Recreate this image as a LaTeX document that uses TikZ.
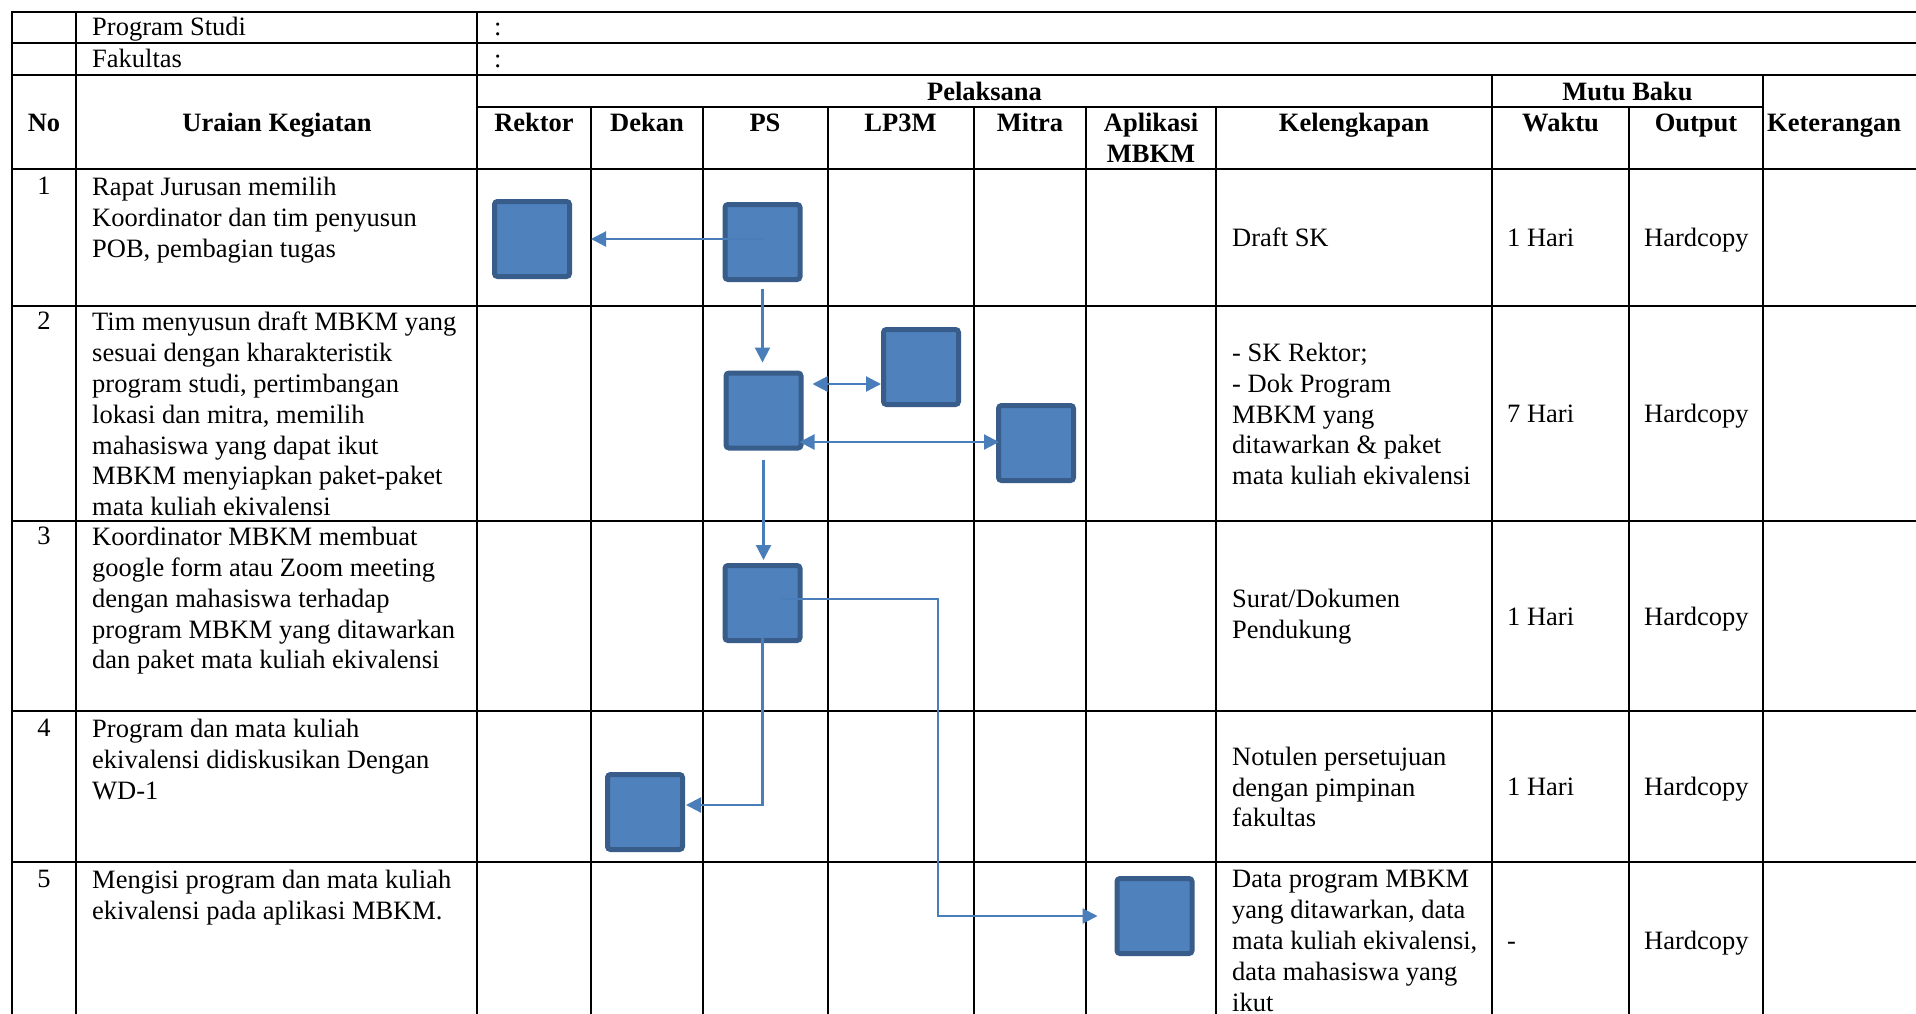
\documentclass[tikz,border=0pt]{standalone}
\usepackage{fontspec}
\setmainfont{Liberation Serif}
\usetikzlibrary{arrows.meta}
\definecolor{boxfill}{HTML}{4F81BD}
\definecolor{boxline}{HTML}{385D8A}
\definecolor{conncol}{HTML}{4A7EBB}
\begin{document}
\begin{tikzpicture}[x=1pt,y=-1pt,
  grid/.style={line width=2pt, black, line cap=rect},
  tx/.style={font=\fontsize{26.5}{30.8}\selectfont, inner sep=0pt, align=left},
  one/.style={font=\fontsize{26.5}{30.8}\selectfont, inner sep=0pt, text height=18pt, text depth=6pt},
  hd/.style={font=\bfseries\fontsize{26.5}{30.8}\selectfont, inner sep=0pt, text height=18pt, text depth=6pt},
  hdtwo/.style={font=\bfseries\fontsize{26.5}{30.8}\selectfont, inner sep=0pt, align=center},
  flowbox/.style={draw=boxline, fill=boxfill, line width=5pt, rounded corners=3pt, minimum width=75pt, minimum height=75pt, inner sep=0pt},
  conn/.style={draw=conncol, line width=2.2pt},
  tipc/.style={-{Triangle[length=15pt,width=15pt]}},
  tipboth/.style={{Triangle[length=15pt,width=15pt]}-{Triangle[length=15pt,width=15pt]}},
]
\useasboundingbox (0,0) rectangle (1916,1013);
\clip (0,0) rectangle (1916,1013);
\fill[white] (0,0) rectangle (1916,1013);

% ---- table grid ----
\foreach \yy in {12,43,75,169,305.7,521,710.7,861.7}
  \draw[grid] (12,\yy) -- (1940,\yy);
\draw[grid] (477,107) -- (1763,107);
\foreach \xx in {12,76,477}
  \draw[grid] (\xx,12) -- (\xx,1030);
\foreach \xx in {591,703,827.5,974,1086,1216,1629}
  \draw[grid] (\xx,107) -- (\xx,1030);
\foreach \xx in {1492,1763}
  \draw[grid] (\xx,75) -- (\xx,1030);

% ---- top rows ----
\node[one, anchor=west] (ps) at (92,29) {Program Studi};
\node[one, anchor=west] (psc) at (494,29) {:};
\node[one, anchor=west] (fk) at (92,61) {Fakultas};
\node[one, anchor=west] (fkc) at (494,61) {:};

% ---- header ----
\node[hd] (hno) at (44,125) {No};
\node[hd] (hur) at (277,125) {Uraian Kegiatan};
\node[hd] (hpl) at (984.5,94) {Pelaksana};
\node[hd] (hmb) at (1627.5,94) {Mutu Baku};
\node[hd] (hrk) at (534,125) {Rektor};
\node[hd] (hdk) at (647,125) {Dekan};
\node[hd] (hps) at (765,125) {PS};
\node[hd] (hlp) at (900.5,125) {LP3M};
\node[hd] (hmi) at (1030,125) {Mitra};
\node[hdtwo, anchor=north] (hap) at (1151,113) {Aplikasi\\MBKM};
\node[hd] (hkl) at (1354,125) {Kelengkapan};
\node[hd] (hwk) at (1560.5,125) {Waktu};
\node[hd] (hot) at (1696,125) {Output};
\node[hd, anchor=west] (hkt) at (1767,125) {Keterangan};

% ---- row numbers ----
\node[tx, anchor=north] (n1) at (44,177) {1};
\node[tx, anchor=north] (n2) at (44,312) {2};
\node[tx, anchor=north] (n3) at (44,527) {3};
\node[tx, anchor=north] (n4) at (44,719) {4};
\node[tx, anchor=north] (n5) at (44,870) {5};

% ---- uraian ----
\node[tx, anchor=north west] (u1) at (92,177) {Rapat Jurusan memilih\\Koordinator dan tim penyusun\\POB, pembagian tugas};
\node[tx, anchor=north west] (u2) at (92,312) {Tim menyusun draft MBKM yang\\sesuai dengan kharakteristik\\program studi, pertimbangan\\lokasi dan mitra, memilih\\mahasiswa yang dapat ikut\\MBKM menyiapkan paket-paket\\mata kuliah ekivalensi};
\node[tx, anchor=north west] (u3) at (92,527) {Koordinator MBKM membuat\\google form atau Zoom meeting\\dengan mahasiswa terhadap\\program MBKM yang ditawarkan\\dan paket mata kuliah ekivalensi};
\node[tx, anchor=north west] (u4) at (92,719) {Program dan mata kuliah\\ekivalensi didiskusikan Dengan\\WD-1};
\node[tx, anchor=north west] (u5) at (92,870) {Mengisi program dan mata kuliah\\ekivalensi pada aplikasi MBKM.};

% ---- kelengkapan ----
\node[one, anchor=west] (k1) at (1232,240) {Draft SK};
\node[tx, anchor=west] (k2) at (1232,414) {- SK Rektor;\\- Dok Program\\MBKM yang\\ditawarkan \& paket\\mata kuliah ekivalensi};
\node[tx, anchor=west] (k3) at (1232,617) {Surat/Dokumen\\Pendukung};
\node[tx, anchor=west] (k4) at (1232,787) {Notulen persetujuan\\dengan pimpinan\\fakultas};
\node[tx, anchor=west] (k5) at (1232,941) {Data program MBKM\\yang ditawarkan, data\\mata kuliah ekivalensi,\\data mahasiswa yang\\ikut};

% ---- waktu ----
\node[one, anchor=west] (w1) at (1507,240) {1 Hari};
\node[one, anchor=west] (w2) at (1507,416) {7 Hari};
\node[one, anchor=west] (w3) at (1507,619) {1 Hari};
\node[one, anchor=west] (w4) at (1507,789) {1 Hari};
\node[one, anchor=west] (w5) at (1507,943) {-};

% ---- output ----
\node[one, anchor=west] (o1) at (1644,240) {Hardcopy};
\node[one, anchor=west] (o2) at (1644,416) {Hardcopy};
\node[one, anchor=west] (o3) at (1644,619) {Hardcopy};
\node[one, anchor=west] (o4) at (1644,789) {Hardcopy};
\node[one, anchor=west] (o5) at (1644,943) {Hardcopy};

% ---- flow boxes ----
\node[flowbox] (R1) at (532,239) {};
\node[flowbox] (PS1) at (762.5,242) {};
\node[flowbox] (PS2) at (763.5,410.5) {};
\node[flowbox] (LP2) at (921,367) {};
\node[flowbox] (MI2) at (1036,443) {};
\node[flowbox] (PS3) at (762.5,603) {};
\node[flowbox] (DK4) at (645,812) {};
\node[flowbox] (AP5) at (1154.5,916) {};
\coordinate (bend7) at (938,0);

% ---- connectors ----
\draw[conn,tipc,shorten >=19pt] (PS1.center |- R1.east) -- (R1.east);
\draw[conn,tipc,shorten <=7pt,shorten >=8pt] (PS1.south) -- (PS1.south |- PS2.north);
\draw[conn,tipboth,shorten <=9pt] ([yshift=26.5pt]PS2.east) -- ([yshift=-17pt]LP2.west);
\draw[conn,tipboth,shorten <=-4pt,shorten >=-3pt] ([yshift=-31.5pt]PS2.east) -- ([yshift=1pt]MI2.west);
\draw[conn,tipc,shorten <=9pt,shorten >=3pt] (PS2.south) -- (PS2.south |- PS3.north);
\draw[conn,tipc,shorten <=-5pt,shorten >=1pt] (PS3.south) |- ([yshift=7pt]DK4.east);
\draw[conn,tipc,shorten >=17pt] ([xshift=19pt,yshift=4pt]PS3.center) -| (bend7 |- AP5.west) -- (AP5.west);
\end{tikzpicture}
\end{document}
